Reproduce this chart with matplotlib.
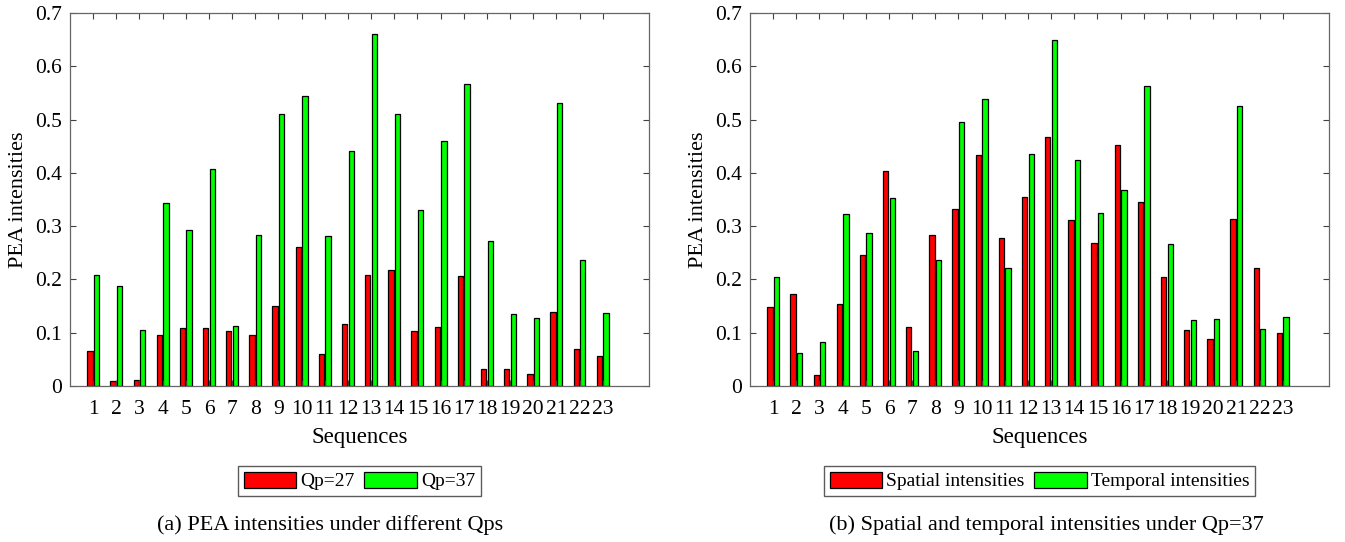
import matplotlib
matplotlib.use("Agg")
import matplotlib.pyplot as plt
import numpy as np

plt.rcParams["font.family"] = ["Liberation Serif", "DejaVu Serif"]
plt.rcParams["mathtext.fontset"] = "stix"

sequences = list(range(1, 24))

# (a) PEA intensities under different Qps
qp27 = [0.066, 0.009, 0.011, 0.095, 0.108, 0.109, 0.103, 0.095, 0.151, 0.261, 0.060, 0.117,
        0.209, 0.218, 0.104, 0.110, 0.206, 0.031, 0.032, 0.023, 0.138, 0.069, 0.056]
qp37 = [0.209, 0.188, 0.106, 0.343, 0.293, 0.408, 0.113, 0.284, 0.511, 0.544, 0.281, 0.441,
        0.660, 0.511, 0.331, 0.459, 0.567, 0.273, 0.135, 0.127, 0.532, 0.236, 0.137]

# (b) spatial vs temporal intensities under Qp=37
spatial = [0.149, 0.172, 0.021, 0.154, 0.245, 0.404, 0.110, 0.283, 0.333, 0.434, 0.278, 0.355,
           0.467, 0.311, 0.269, 0.452, 0.345, 0.205, 0.105, 0.089, 0.314, 0.221, 0.099]
temporal = [0.205, 0.061, 0.082, 0.323, 0.288, 0.353, 0.066, 0.237, 0.496, 0.538, 0.222, 0.435,
            0.650, 0.425, 0.324, 0.368, 0.563, 0.266, 0.124, 0.125, 0.526, 0.107, 0.129]

panels = [
    (qp27, qp37, ["Qp=27", "Qp=37"], "(a) PEA intensities under different Qps"),
    (spatial, temporal, ["Spatial intensities", "Temporal intensities"],
     "(b) Spatial and temporal intensities under Qp=37"),
]

W, H = 1345, 542
fig = plt.figure(figsize=(W / 100, H / 100), dpi=100)

BAR_W = 0.23
OFF = 0.143
lefts = [70, 750]
caption_x = [330, 1046]

for (ya, yb, labels, caption), x0, capx in zip(panels, lefts, caption_x):
    ax = fig.add_axes([x0 / W, 1 - 386 / H, 579 / W, 373 / H])
    x = np.array(sequences)
    ax.bar(x - OFF, ya, BAR_W, color="#ff0000", edgecolor="black", linewidth=0.9, label=labels[0])
    ax.bar(x + OFF, yb, BAR_W, color="#00ff00", edgecolor="black", linewidth=0.9, label=labels[1])
    ax.set_xlim(0, 25)
    ax.set_ylim(0, 0.7)
    ax.set_xticks(sequences)
    ax.set_xticklabels([str(s) for s in sequences])
    ax.set_yticks(np.arange(0, 0.71, 0.1))
    ax.set_yticklabels(["0"] + [f"{v:.1f}" for v in np.arange(0.1, 0.71, 0.1)])
    ax.tick_params(direction="in", top=True, right=True, length=4.5, width=0.8,
                   labelsize=15.5, colors="0.25", labelcolor="black")
    ax.tick_params(axis="x", pad=10)
    ax.tick_params(axis="y", pad=6)
    for sp in ax.spines.values():
        sp.set_color("0.4")
        sp.set_linewidth(0.9)
    ax.set_xlabel("Sequences", fontsize=16.5, labelpad=6)
    ax.set_ylabel("PEA intensities", fontsize=16, labelpad=5)
    cx = (x0 + 579 / 2) / W
    ax.legend(loc="center", bbox_to_anchor=(cx, 1 - 481 / H), bbox_transform=fig.transFigure,
              ncol=2, fontsize=14, frameon=True, fancybox=False, edgecolor="0.2",
              handlelength=2.7, handleheight=0.9, handletextpad=0.2, columnspacing=0.5,
              borderpad=0.3, borderaxespad=0)
    fig.text(capx / W, 1 - 525 / H, caption, ha="center", va="center", fontsize=16)

fig.savefig("out.png", dpi=100)
